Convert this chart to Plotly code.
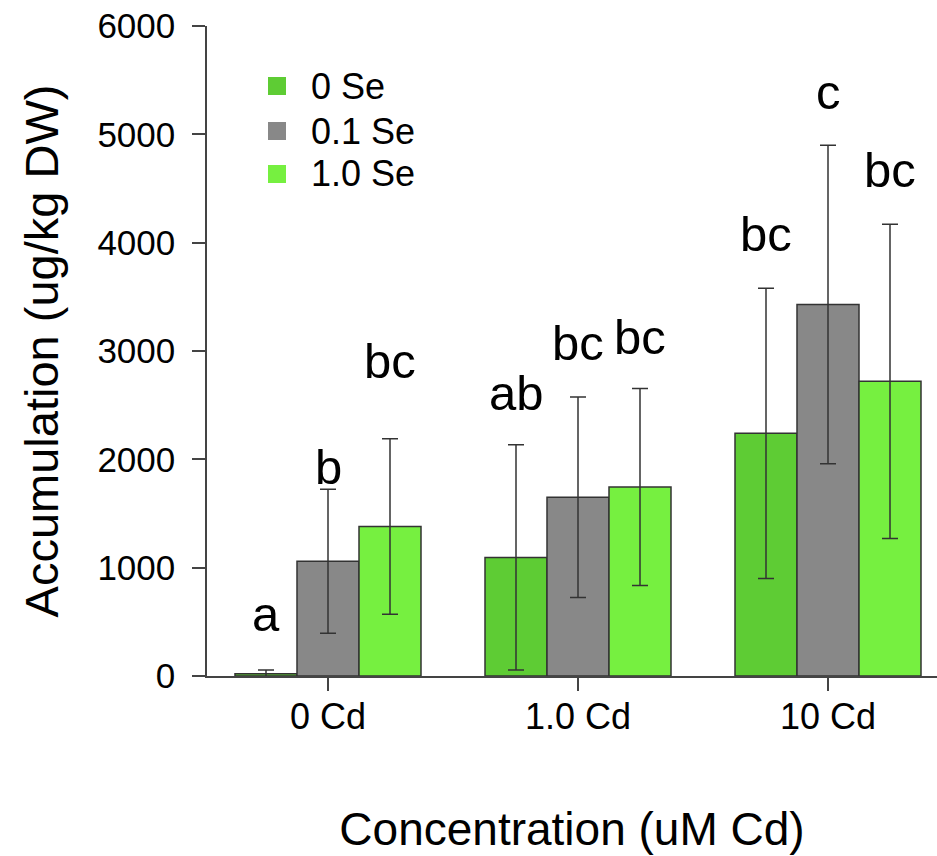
import plotly.graph_objects as go

categories = ["0 Cd", "1.0 Cd", "10 Cd"]
series_names = ["0 Se", "0.1 Se", "1.0 Se"]
se0_vals = [20, 1095, 2240]
se0_err = [35, 1040, 1340]
se01_vals = [1060, 1650, 3430]
se01_err = [665, 925, 1470]
se1_vals = [1380, 1745, 2720]
se1_err = [810, 910, 1450]
letters = [["a", "b", "bc"], ["ab", "bc", "bc"], ["bc", "c", "bc"]]
letter_y = [[575, 1929, 2908], [2612, 3074, 3129], [4080, 5390, 4671]]
y_ticks = [0, 1000, 2000, 3000, 4000, 5000, 6000]

colors = ["#5ecc34", "#888888", "#76f040"]
FONT = "Liberation Sans, Arial, Helvetica, sans-serif"

fig = go.Figure()
xs = list(range(len(categories)))
for name, vals, errs, col in zip(series_names, [se0_vals, se01_vals, se1_vals],
                                 [se0_err, se01_err, se1_err], colors):
    fig.add_trace(go.Bar(
        x=xs, y=vals, name=name, showlegend=False,
        marker=dict(color=col, line=dict(color="#333333", width=1.5)),
        error_y=dict(type="data", array=errs, visible=True, color="#333333",
                     thickness=1.5, width=8),
    ))

bar_w = 0.248
offsets = [-bar_w, 0, bar_w]
for gi, x0 in enumerate(xs):
    for si in range(3):
        fig.add_annotation(
            x=x0 + offsets[si], y=letter_y[gi][si], xref="x", yref="y",
            text=letters[gi][si], showarrow=False, yanchor="middle",
            font=dict(family=FONT, size=49, color="black"),
        )

# legend drawn in paper coordinates
PLOT_W, PLOT_H = 730, 650
leg_rows_px = [86, 131, 174]
for name, col, ypx in zip(series_names, colors, leg_rows_px):
    yc = (676 - ypx) / PLOT_H
    fig.add_shape(type="rect", xref="paper", yref="paper",
                  x0=(268 - 207) / PLOT_W, x1=(286 - 207) / PLOT_W,
                  y0=yc - 9 / PLOT_H, y1=yc + 9 / PLOT_H,
                  fillcolor=col, line=dict(width=0))
    fig.add_annotation(x=(309 - 207) / PLOT_W, y=yc, xref="paper", yref="paper",
                       text=name, showarrow=False, xanchor="left", yanchor="middle",
                       font=dict(family=FONT, size=36, color="black"))

fig.update_layout(
    width=937, height=856,
    margin=dict(l=207, r=0, t=26, b=180, autoexpand=False),
    paper_bgcolor="white", plot_bgcolor="white",
    barmode="group", bargap=1 - 3 * bar_w, bargroupgap=0,
    font=dict(family=FONT, color="black"),
    showlegend=False,
)
fig.update_xaxes(
    tickmode="array", tickvals=xs, ticktext=categories,
    range=[-0.484, 2.436], automargin=False,
    showline=True, linecolor="#444444", linewidth=1.5,
    ticks="outside", ticklen=13, tickwidth=1.5, tickcolor="#444444",
    tickfont=dict(family=FONT, size=36, color="black"),
    ticklabelstandoff=-5,
    showgrid=False, zeroline=False,
    title=dict(text="Concentration (uM Cd)", standoff=77,
               font=dict(family=FONT, size=46, color="black")),
)
fig.update_yaxes(
    range=[0, 6000], tickvals=y_ticks, automargin=False,
    showline=True, linecolor="#444444", linewidth=1.5,
    ticks="outside", ticklen=13, tickwidth=1.5, tickcolor="#444444",
    tickfont=dict(family=FONT, size=35, color="black"),
    ticklabelstandoff=10,
    showgrid=False, zeroline=False,
    title=dict(text="Accumulation (ug/kg DW)", standoff=24,
               font=dict(family=FONT, size=47, color="black")),
)

fig.write_html("out.html", config={"displayModeBar": False},
               post_script="document.body.style.margin='0';document.body.style.padding='0';")
